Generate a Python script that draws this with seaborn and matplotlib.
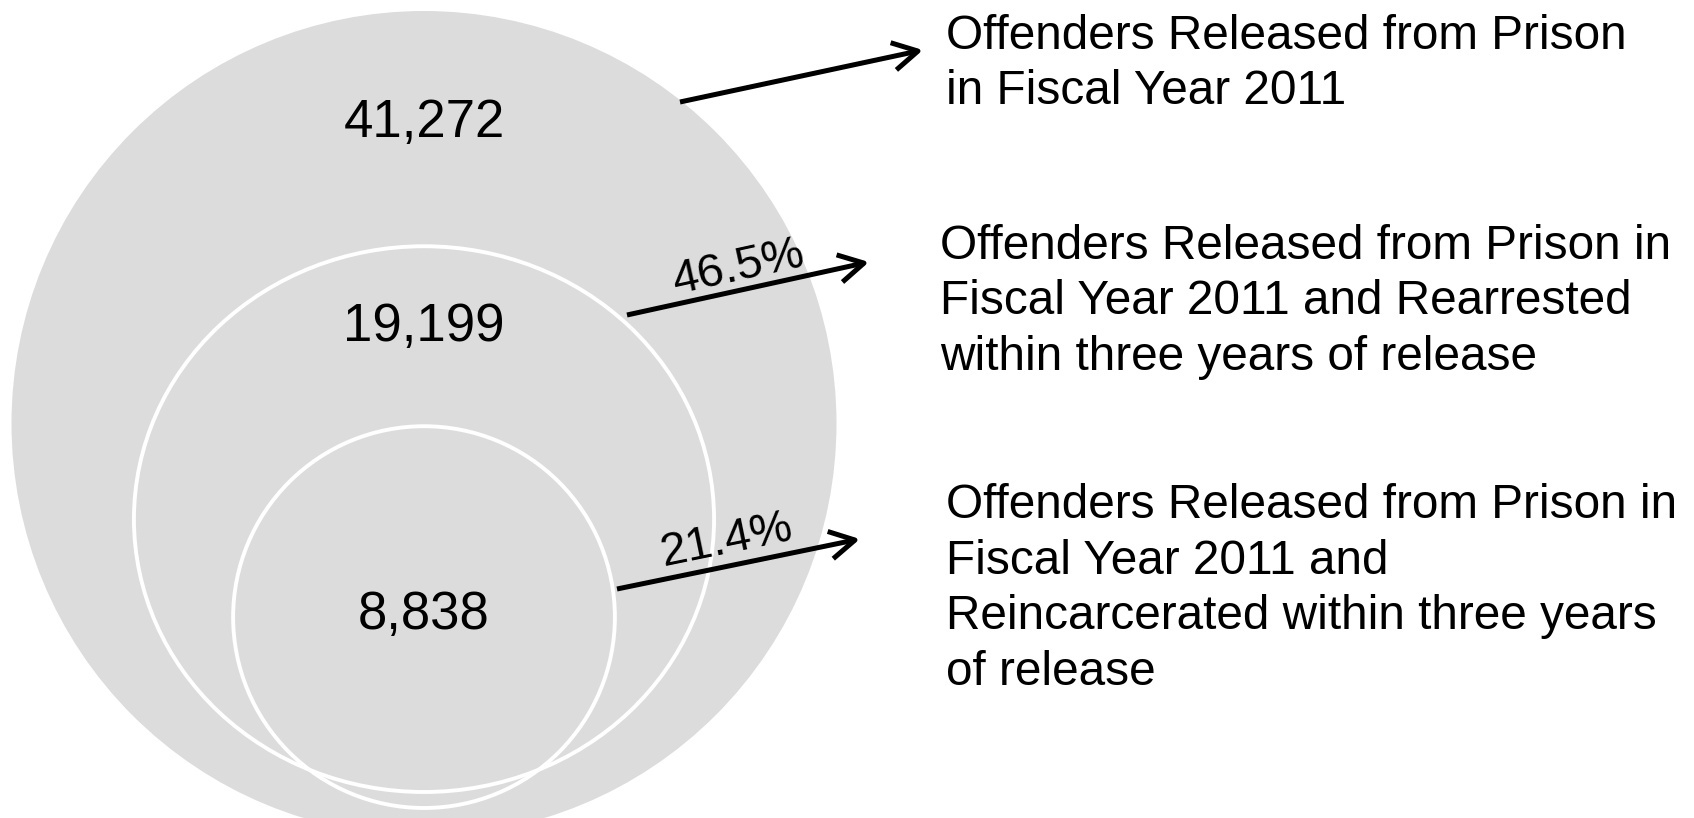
import numpy as np
import matplotlib
matplotlib.use("Agg")
import matplotlib.pyplot as plt
from matplotlib.patches import Ellipse
import seaborn as sns

# Nested groups: released -> rearrested -> reincarcerated
group_counts = [41272, 19199, 8838]
group_labels = [
    "Offenders Released from Prison\nin Fiscal Year 2011",
    "Offenders Released from Prison in\nFiscal Year 2011 and Rearrested\nwithin three years of release",
    "Offenders Released from Prison in\nFiscal Year 2011 and\nReincarcerated within three years\nof release",
]

sns.set_theme(style="white")
plt.rcParams["font.family"] = ["Liberation Sans", "DejaVu Sans"]

W, H = 1694, 818
fig = plt.figure(figsize=(W / 100, H / 100), dpi=100)
ax = fig.add_axes([0, 0, 1, 1])
ax.set_xlim(0, W)
ax.set_ylim(H, 0)
ax.axis("off")

fill = "#DCDCDC"
total = group_counts[0]
outer_r = 412.5
cx = 424
# shape area proportional to group size; the middle shape is slightly oval
radii = [outer_r * np.sqrt(c / total) for c in group_counts]
aspects = [1.0, 1.063, 1.0]
bottoms = [836, 792, 808]
shapes = []
for r, a, b in zip(radii, aspects, bottoms):
    w, h = 2 * r * np.sqrt(a), 2 * r / np.sqrt(a)
    shapes.append((w, h, b - h / 2))
number_y = [123, 327, 615]

for w, h, cy in shapes:
    ax.add_patch(Ellipse((cx, cy), w, h, facecolor=fill, edgecolor="none", zorder=1))
for w, h, cy in shapes[1:]:
    ax.add_patch(Ellipse((cx, cy), w, h, facecolor="none", edgecolor="white",
                         lw=2.8, zorder=2))

for c, y in zip(group_counts, number_y):
    ax.text(cx, y, f"{c:,}", fontsize=38, ha="center", va="center",
            color="black", zorder=4)

# arrows pointing from each shape to its description
arrow_starts = [(680, 102), (627, 315), (617, 589)]
arrow_ends = [(923, 50), (869, 262), (860, 539)]
label_pos = [(946, 64), (940, 302), (946, 589)]

for (x0, y0), (x1, y1) in zip(arrow_starts, arrow_ends):
    ax.annotate("", xy=(x1, y1), xytext=(x0, y0),
                arrowprops=dict(arrowstyle="->,head_length=0.9,head_width=0.5",
                                lw=3.6, color="black", shrinkA=0, shrinkB=0,
                                mutation_scale=20, capstyle="butt"),
                zorder=5)

for (x, y), txt in zip(label_pos, group_labels):
    ax.text(x, y, txt, fontsize=34.4, ha="left", va="center", color="black",
            linespacing=1.31)

# share of released offenders on the two lower arrows
pct_pos = [(739, 268), (727, 541)]
for k, (px, py) in enumerate(pct_pos, start=1):
    (x0, y0), (x1, y1) = arrow_starts[k], arrow_ends[k]
    ang = np.degrees(np.arctan2(y0 - y1, x1 - x0))
    pct = group_counts[k] / total * 100
    ax.text(px, py, f"{pct:.1f}%", fontsize=34, ha="center", va="center",
            rotation=ang, rotation_mode="anchor", color="black", zorder=6)

fig.savefig("out.png", dpi=100, facecolor="white")
